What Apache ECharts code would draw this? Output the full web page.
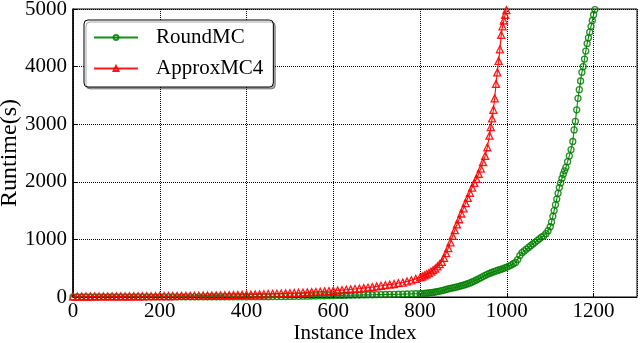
<!DOCTYPE html>
<html>
<head>
<meta charset="utf-8">
<script src="https://cdn.jsdelivr.net/npm/echarts@6/dist/echarts.min.js"></script>
<style>
html, body { margin: 0; padding: 0; background: #fff; }
#runtimeChart { width: 640px; height: 343px; }
</style>
</head>
<body>
<div id="runtimeChart"></div>
<script>
// instance index / runtime(s)
var roundIdx = [0, 10, 20, 30, 40, 50, 60, 70, 80, 90, 100, 110, 120, 130, 140, 150, 160, 170, 180, 190,
	200, 210, 220, 230, 240, 250, 260, 270, 280, 290, 300, 310, 320, 330, 340, 350, 360, 370, 380, 390,
	400, 410, 420, 430, 440, 450, 460, 470, 480, 490, 500, 510, 520, 530, 540, 550, 560, 570, 580, 590,
	600, 610, 620, 630, 640, 650, 660, 670, 680, 690, 700, 710, 720, 730, 740, 750, 760, 770, 780, 790,
	800, 805, 810, 815, 820, 825, 830, 835, 840, 845, 850, 855, 860, 865, 870, 875, 880, 885, 890, 895,
	900, 905, 910, 915, 920, 925, 930, 935, 940, 945, 950, 955, 960, 965, 970, 975, 980, 985, 990, 995,
	1000, 1005, 1010, 1015, 1020, 1025, 1030, 1035, 1040, 1045, 1050, 1055, 1060, 1065, 1070, 1075, 1080, 1085, 1090, 1095,
	1100, 1103, 1106, 1109, 1112, 1115, 1118, 1121, 1124, 1127, 1130, 1133, 1136, 1140, 1144, 1148, 1152, 1155, 1158,
	1161, 1164, 1167, 1170, 1173, 1176, 1179, 1182, 1185, 1188, 1191, 1194, 1197, 1200, 1203];
var roundTime = [2, 2, 2, 2, 2, 2, 2, 2, 2, 2, 2, 2, 2, 2, 3, 3, 3, 3, 3, 3,
	3, 3, 3, 3, 3, 3, 3, 3, 3, 3, 3, 4, 4, 4, 4, 4, 4, 4, 4, 4,
	4, 5, 5, 5, 6, 6, 7, 7, 8, 9, 10, 11, 12, 14, 15, 17, 18, 20, 22, 23,
	25, 27, 28, 30, 31, 33, 34, 36, 37, 39, 40, 42, 43, 45, 46, 48, 50, 52, 54, 56,
	58, 60, 63, 66, 70, 75, 80, 87, 95, 102, 110, 120, 130, 140, 150, 157, 165, 175, 185, 195,
	205, 217, 230, 245, 260, 277, 295, 315, 335, 355, 375, 393, 410, 425, 440, 452, 465, 477, 490, 505,
	520, 537, 555, 577, 600, 650, 720, 770, 800, 830, 860, 890, 920, 950, 980, 1010, 1040, 1060, 1100, 1150,
	1220, 1300, 1400, 1500, 1600, 1700, 1800, 1900, 1980, 2060, 2130, 2190, 2250, 2350, 2450, 2560, 2700, 2900, 3050,
	3250, 3450, 3600, 3750, 3900, 4000, 4130, 4270, 4400, 4500, 4600, 4700, 4800, 4900, 4990];

var approxIdx = [0, 10, 20, 30, 40, 50, 60, 70, 80, 90, 100, 110, 120, 130, 140, 150, 160, 170, 180, 190,
	200, 210, 220, 230, 240, 250, 260, 270, 280, 290, 300, 310, 320, 330, 340, 350, 360, 370, 380, 390,
	400, 410, 420, 430, 440, 450, 460, 470, 480, 490, 500, 510, 520, 530, 540, 550, 560, 570, 580, 590,
	600, 610, 620, 630, 640, 650, 660, 670, 680, 690, 700, 710, 720, 730, 740, 750, 760, 770, 780, 790,
	800, 805, 810, 815, 820, 825, 830, 835, 840, 845, 850, 855, 860, 865, 870, 875, 880, 885, 890, 895,
	900, 905, 910, 915, 920, 925, 930, 935, 940, 945, 950, 955, 960, 963, 966, 969, 972, 975, 978, 981,
	984, 987, 990, 993, 996, 999];
var approxTime = [8, 8, 9, 9, 9, 10, 10, 10, 10, 11, 11, 11, 11, 12, 12, 13, 13, 14, 14, 15,
	16, 16, 17, 17, 18, 19, 19, 20, 21, 23, 25, 26, 27, 28, 29, 31, 33, 35, 36, 38,
	40, 42, 44, 46, 48, 51, 54, 57, 60, 63, 66, 69, 73, 76, 80, 84, 88, 92, 97, 102,
	108, 114, 120, 126, 132, 139, 146, 154, 162, 172, 185, 195, 205, 215, 225, 240, 250, 270, 290, 315,
	340, 355, 375, 395, 415, 440, 465, 495, 530, 570, 610, 680, 760, 850, 950, 1060, 1160, 1260, 1350, 1450,
	1540, 1630, 1720, 1810, 1900, 1980, 2050, 2140, 2230, 2340, 2450, 2600, 2800, 2950, 3100, 3250, 3450, 3700, 3900, 4100,
	4300, 4550, 4700, 4800, 4900, 4980];

var xTicks = { min: 0, max: 1300, step: 200 };
var yTicks = { min: 0, max: 5000, step: 1000 };

function pairs(xs, ys) {
	var out = [];
	for (var i = 0; i < xs.length; i++) {
		out.push([xs[i], ys[i]]);
	}
	return out;
}

runtimeChart("runtimeChart");

function runtimeChart(id) {
	var chart = echarts.init(document.getElementById(id));
	var font = 'Liberation Serif';
	var option = {
		animation: false,
		textStyle: { fontFamily: font },
		grid: {
			left: 73,
			right: 3,
			top: 9,
			bottom: 46,
			show: true,
			borderColor: '#000',
			borderWidth: 1,
			outerBoundsMode: 'none',
			containLabel: false
		},
		legend: {
			orient: 'vertical',
			left: 84,
			top: 20,
			padding: [7, 10, 8, 9],
			itemGap: 10,
			itemWidth: 44,
			itemHeight: 6,
			backgroundColor: '#fff',
			borderColor: '#000',
			borderWidth: 1,
			borderRadius: 4,
			shadowColor: 'rgba(0,0,0,0.35)',
			shadowOffsetX: 2,
			shadowOffsetY: 2,
			shadowBlur: 0,
			textStyle: { fontFamily: font, fontSize: 21, color: '#000', padding: [0, 0, 0, 13] },
			data: ['RoundMC', 'ApproxMC4']
		},
		xAxis: {
			type: 'value',
			min: xTicks.min,
			max: xTicks.max,
			interval: xTicks.step,
			name: 'Instance Index',
			nameLocation: 'middle',
			nameGap: 26,
			nameMoveOverlap: false,
			nameTextStyle: { fontFamily: font, fontSize: 21, color: '#000' },
			axisLine: { show: true, onZero: false, lineStyle: { color: '#000', width: 1 } },
			axisTick: { show: true, inside: true, length: 4, lineStyle: { color: '#000' } },
			axisLabel: { fontFamily: font, fontSize: 21, color: '#000', margin: 4, showMaxLabel: false,
				formatter: function (v) { return String(v); } },
			splitLine: { show: true, lineStyle: { color: '#000', type: 'dotted', width: 1 } }
		},
		yAxis: {
			type: 'value',
			min: yTicks.min,
			max: yTicks.max,
			interval: yTicks.step,
			name: 'Runtime(s)',
			nameLocation: 'middle',
			nameGap: 51,
			nameMoveOverlap: false,
			nameTextStyle: { fontFamily: font, fontSize: 24, color: '#000' },
			axisLine: { show: true, lineStyle: { color: '#000', width: 1.5 } },
			axisTick: { show: true, inside: true, length: 4, lineStyle: { color: '#000' } },
			axisLabel: { fontFamily: font, fontSize: 21, color: '#000', margin: 6,
				formatter: function (v) { return String(v); } },
			splitLine: { show: true, lineStyle: { color: '#000', type: 'dotted', width: 1 } }
		},
		series: [{
			name: 'RoundMC',
			type: 'line',
			symbol: 'circle',
			symbolSize: 6,
			showAllSymbol: true,
			lineStyle: { color: '#007f00', width: 1.2, opacity: 0.9 },
			itemStyle: { color: 'rgba(0,128,0,0)', borderColor: 'rgba(0,128,0,0.85)', borderWidth: 1.3 },
			data: pairs(roundIdx, roundTime)
		}, {
			name: 'ApproxMC4',
			type: 'line',
			symbol: 'triangle',
			symbolSize: 7,
			showAllSymbol: true,
			lineStyle: { color: '#ff0000', width: 1.2, opacity: 0.9 },
			itemStyle: { color: 'rgba(255,0,0,0)', borderColor: 'rgba(255,0,0,0.9)', borderWidth: 1.3 },
			data: pairs(approxIdx, approxTime)
		}]
	};
	chart.setOption(option);
}
</script>
</body>
</html>
